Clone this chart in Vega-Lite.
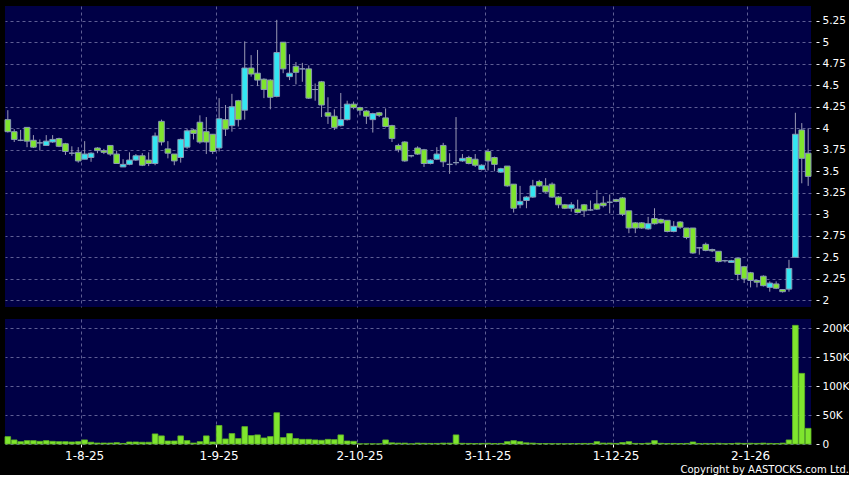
{
  "$schema": "https://vega.github.io/schema/vega-lite/v6.json",
  "background": "#000000",
  "padding": {"left": 4, "top": 6, "right": 0, "bottom": 0},
  "spacing": 12,
  "title": {"text": "Copyright by AASTOCKS.com Ltd.", "orient": "bottom", "anchor": "end", "fontSize": 10, "fontWeight": "normal", "color": "#ffffff", "font": "DejaVu Sans", "offset": 4},
  "config": {
    "view": {"fill": "#000046", "stroke": null},
    "font": "DejaVu Sans",
    "axis": {"gridColor": "#5e5e94", "gridDash": [3, 3], "gridWidth": 1, "labelColor": "#ffffff", "tickColor": "#ffffff", "domain": false, "labelFont": "DejaVu Sans", "labelOverlap": false}
  },
  "data": {"values": [
    {"d":"2025-07-16","o":4.10,"h":4.21,"l":3.95,"c":3.96,"v":12700},
    {"d":"2025-07-17","o":3.96,"h":3.99,"l":3.84,"c":3.87,"v":7000},
    {"d":"2025-07-18","o":3.86,"h":3.98,"l":3.85,"c":3.86,"v":4000},
    {"d":"2025-07-21","o":4.01,"h":4.01,"l":3.78,"c":3.85,"v":5800},
    {"d":"2025-07-22","o":3.86,"h":3.92,"l":3.77,"c":3.78,"v":5800},
    {"d":"2025-07-23","o":3.83,"h":3.87,"l":3.74,"c":3.83,"v":4600},
    {"d":"2025-07-24","o":3.80,"h":3.92,"l":3.80,"c":3.85,"v":5800},
    {"d":"2025-07-25","o":3.84,"h":3.92,"l":3.83,"c":3.87,"v":4600},
    {"d":"2025-07-28","o":3.88,"h":3.89,"l":3.78,"c":3.79,"v":4000},
    {"d":"2025-07-29","o":3.82,"h":3.83,"l":3.69,"c":3.73,"v":4000},
    {"d":"2025-07-30","o":3.71,"h":3.79,"l":3.68,"c":3.71,"v":3500},
    {"d":"2025-07-31","o":3.72,"h":3.78,"l":3.60,"c":3.62,"v":4000},
    {"d":"2025-08-01","o":3.64,"h":3.85,"l":3.64,"c":3.70,"v":7000},
    {"d":"2025-08-04","o":3.66,"h":3.72,"l":3.61,"c":3.71,"v":3000},
    {"d":"2025-08-05","o":3.77,"h":3.78,"l":3.71,"c":3.74,"v":1700},
    {"d":"2025-08-06","o":3.74,"h":3.76,"l":3.70,"c":3.72,"v":1700},
    {"d":"2025-08-07","o":3.80,"h":3.80,"l":3.68,"c":3.70,"v":1700},
    {"d":"2025-08-08","o":3.70,"h":3.74,"l":3.59,"c":3.59,"v":2300},
    {"d":"2025-08-11","o":3.55,"h":3.64,"l":3.55,"c":3.58,"v":1000},
    {"d":"2025-08-12","o":3.58,"h":3.72,"l":3.57,"c":3.63,"v":3500},
    {"d":"2025-08-13","o":3.63,"h":3.70,"l":3.62,"c":3.68,"v":3500},
    {"d":"2025-08-14","o":3.68,"h":3.71,"l":3.56,"c":3.57,"v":3000},
    {"d":"2025-08-15","o":3.63,"h":3.72,"l":3.56,"c":3.59,"v":3000},
    {"d":"2025-08-18","o":3.59,"h":3.95,"l":3.57,"c":3.91,"v":17400},
    {"d":"2025-08-19","o":4.08,"h":4.10,"l":3.80,"c":3.84,"v":14000},
    {"d":"2025-08-20","o":3.76,"h":3.85,"l":3.65,"c":3.71,"v":5200},
    {"d":"2025-08-21","o":3.70,"h":3.70,"l":3.57,"c":3.62,"v":5200},
    {"d":"2025-08-22","o":3.66,"h":3.88,"l":3.60,"c":3.87,"v":14000},
    {"d":"2025-08-25","o":3.78,"h":3.99,"l":3.76,"c":3.97,"v":5800},
    {"d":"2025-08-26","o":3.98,"h":3.99,"l":3.87,"c":3.94,"v":1700},
    {"d":"2025-08-27","o":4.07,"h":4.15,"l":3.82,"c":3.84,"v":4000},
    {"d":"2025-08-28","o":3.96,"h":4.13,"l":3.70,"c":3.84,"v":14000},
    {"d":"2025-08-29","o":3.93,"h":3.93,"l":3.70,"c":3.73,"v":3500},
    {"d":"2025-09-01","o":3.77,"h":4.35,"l":3.73,"c":4.11,"v":32000},
    {"d":"2025-09-02","o":4.10,"h":4.27,"l":3.91,"c":3.99,"v":8700},
    {"d":"2025-09-03","o":4.03,"h":4.40,"l":3.96,"c":4.25,"v":18000},
    {"d":"2025-09-04","o":4.32,"h":4.33,"l":4.02,"c":4.10,"v":9300},
    {"d":"2025-09-05","o":4.21,"h":5.01,"l":4.10,"c":4.70,"v":30000},
    {"d":"2025-09-08","o":4.70,"h":4.85,"l":4.60,"c":4.63,"v":14500},
    {"d":"2025-09-09","o":4.64,"h":4.91,"l":4.49,"c":4.56,"v":15700},
    {"d":"2025-09-10","o":4.57,"h":4.58,"l":4.35,"c":4.45,"v":10400},
    {"d":"2025-09-11","o":4.56,"h":4.57,"l":4.22,"c":4.36,"v":12800},
    {"d":"2025-09-12","o":4.37,"h":5.26,"l":4.36,"c":4.88,"v":54000},
    {"d":"2025-09-15","o":5.00,"h":5.00,"l":4.64,"c":4.69,"v":11000},
    {"d":"2025-09-16","o":4.60,"h":4.86,"l":4.56,"c":4.64,"v":18000},
    {"d":"2025-09-17","o":4.72,"h":4.77,"l":4.51,"c":4.65,"v":9300},
    {"d":"2025-09-18","o":4.69,"h":4.76,"l":4.54,"c":4.69,"v":8000},
    {"d":"2025-09-19","o":4.69,"h":4.73,"l":4.34,"c":4.35,"v":8000},
    {"d":"2025-09-22","o":4.45,"h":4.52,"l":4.32,"c":4.45,"v":7000},
    {"d":"2025-09-23","o":4.54,"h":4.55,"l":4.13,"c":4.27,"v":6400},
    {"d":"2025-09-24","o":4.18,"h":4.36,"l":4.05,"c":4.14,"v":8000},
    {"d":"2025-09-25","o":4.14,"h":4.22,"l":3.98,"c":4.01,"v":7500},
    {"d":"2025-09-26","o":4.03,"h":4.41,"l":4.02,"c":4.10,"v":15700},
    {"d":"2025-09-29","o":4.10,"h":4.32,"l":4.09,"c":4.28,"v":5200},
    {"d":"2025-09-30","o":4.28,"h":4.31,"l":4.22,"c":4.24,"v":4600},
    {"d":"2025-10-02","o":4.24,"h":4.25,"l":4.15,"c":4.21,"v":300},
    {"d":"2025-10-03","o":4.20,"h":4.21,"l":4.05,"c":4.14,"v":300},
    {"d":"2025-10-06","o":4.10,"h":4.18,"l":3.95,"c":4.17,"v":300},
    {"d":"2025-10-08","o":4.18,"h":4.19,"l":4.13,"c":4.15,"v":300},
    {"d":"2025-10-09","o":4.12,"h":4.23,"l":4.01,"c":4.02,"v":7000},
    {"d":"2025-10-10","o":4.03,"h":4.04,"l":3.84,"c":3.88,"v":2000},
    {"d":"2025-10-13","o":3.80,"h":3.82,"l":3.72,"c":3.75,"v":1500},
    {"d":"2025-10-14","o":3.84,"h":3.85,"l":3.61,"c":3.62,"v":1500},
    {"d":"2025-10-15","o":3.68,"h":3.69,"l":3.66,"c":3.68,"v":300},
    {"d":"2025-10-16","o":3.77,"h":3.79,"l":3.69,"c":3.70,"v":1500},
    {"d":"2025-10-17","o":3.75,"h":3.76,"l":3.55,"c":3.59,"v":1200},
    {"d":"2025-10-20","o":3.59,"h":3.64,"l":3.58,"c":3.63,"v":1000},
    {"d":"2025-10-21","o":3.64,"h":3.78,"l":3.63,"c":3.70,"v":1000},
    {"d":"2025-10-22","o":3.80,"h":3.83,"l":3.55,"c":3.61,"v":1500},
    {"d":"2025-10-23","o":3.58,"h":3.71,"l":3.47,"c":3.58,"v":1500},
    {"d":"2025-10-24","o":3.60,"h":4.13,"l":3.57,"c":3.60,"v":15700},
    {"d":"2025-10-27","o":3.62,"h":3.70,"l":3.61,"c":3.65,"v":1200},
    {"d":"2025-10-28","o":3.66,"h":3.68,"l":3.58,"c":3.59,"v":1000},
    {"d":"2025-10-30","o":3.64,"h":3.70,"l":3.55,"c":3.57,"v":800},
    {"d":"2025-10-31","o":3.52,"h":3.58,"l":3.51,"c":3.57,"v":1000},
    {"d":"2025-11-03","o":3.73,"h":3.76,"l":3.51,"c":3.62,"v":1200},
    {"d":"2025-11-04","o":3.66,"h":3.67,"l":3.50,"c":3.58,"v":800},
    {"d":"2025-11-05","o":3.49,"h":3.54,"l":3.48,"c":3.53,"v":1000},
    {"d":"2025-11-06","o":3.56,"h":3.56,"l":3.32,"c":3.33,"v":4000},
    {"d":"2025-11-07","o":3.35,"h":3.35,"l":3.02,"c":3.07,"v":5800},
    {"d":"2025-11-10","o":3.11,"h":3.33,"l":3.07,"c":3.15,"v":4000},
    {"d":"2025-11-11","o":3.16,"h":3.21,"l":3.07,"c":3.20,"v":2000},
    {"d":"2025-11-12","o":3.20,"h":3.40,"l":3.19,"c":3.33,"v":1500},
    {"d":"2025-11-13","o":3.38,"h":3.40,"l":3.32,"c":3.33,"v":800},
    {"d":"2025-11-14","o":3.33,"h":3.42,"l":3.25,"c":3.26,"v":800},
    {"d":"2025-11-17","o":3.35,"h":3.37,"l":3.19,"c":3.20,"v":600},
    {"d":"2025-11-18","o":3.20,"h":3.21,"l":3.07,"c":3.11,"v":600},
    {"d":"2025-11-19","o":3.11,"h":3.12,"l":3.06,"c":3.07,"v":500},
    {"d":"2025-11-20","o":3.07,"h":3.14,"l":3.03,"c":3.11,"v":800},
    {"d":"2025-11-21","o":3.06,"h":3.17,"l":3.01,"c":3.02,"v":800},
    {"d":"2025-11-24","o":3.11,"h":3.12,"l":2.97,"c":3.04,"v":1000},
    {"d":"2025-11-25","o":3.05,"h":3.16,"l":3.04,"c":3.05,"v":1000},
    {"d":"2025-11-26","o":3.12,"h":3.28,"l":3.05,"c":3.06,"v":4000},
    {"d":"2025-11-27","o":3.13,"h":3.21,"l":3.08,"c":3.10,"v":1500},
    {"d":"2025-11-28","o":3.14,"h":3.23,"l":3.01,"c":3.14,"v":1500},
    {"d":"2025-12-01","o":3.17,"h":3.18,"l":3.14,"c":3.15,"v":1000},
    {"d":"2025-12-02","o":3.19,"h":3.20,"l":2.98,"c":3.00,"v":2500},
    {"d":"2025-12-03","o":3.04,"h":3.04,"l":2.78,"c":2.84,"v":4000},
    {"d":"2025-12-04","o":2.90,"h":2.91,"l":2.78,"c":2.84,"v":1000},
    {"d":"2025-12-05","o":2.90,"h":2.91,"l":2.83,"c":2.84,"v":800},
    {"d":"2025-12-08","o":2.83,"h":2.97,"l":2.82,"c":2.89,"v":1500},
    {"d":"2025-12-09","o":2.95,"h":3.07,"l":2.88,"c":2.89,"v":5800},
    {"d":"2025-12-10","o":2.94,"h":2.95,"l":2.89,"c":2.90,"v":1200},
    {"d":"2025-12-11","o":2.93,"h":2.93,"l":2.79,"c":2.80,"v":800},
    {"d":"2025-12-12","o":2.80,"h":2.92,"l":2.79,"c":2.86,"v":1000},
    {"d":"2025-12-15","o":2.91,"h":2.92,"l":2.83,"c":2.85,"v":800},
    {"d":"2025-12-16","o":2.84,"h":2.84,"l":2.71,"c":2.73,"v":1000},
    {"d":"2025-12-17","o":2.84,"h":2.84,"l":2.54,"c":2.55,"v":3500},
    {"d":"2025-12-18","o":2.61,"h":2.62,"l":2.53,"c":2.61,"v":800},
    {"d":"2025-12-19","o":2.65,"h":2.67,"l":2.57,"c":2.58,"v":1000},
    {"d":"2025-12-22","o":2.59,"h":2.60,"l":2.56,"c":2.575,"v":800},
    {"d":"2025-12-23","o":2.57,"h":2.57,"l":2.44,"c":2.45,"v":1200},
    {"d":"2025-12-24","o":2.46,"h":2.47,"l":2.44,"c":2.46,"v":500},
    {"d":"2025-12-29","o":2.44,"h":2.47,"l":2.44,"c":2.46,"v":800},
    {"d":"2025-12-30","o":2.49,"h":2.49,"l":2.23,"c":2.30,"v":1500},
    {"d":"2025-12-31","o":2.39,"h":2.40,"l":2.20,"c":2.25,"v":1000},
    {"d":"2026-01-02","o":2.32,"h":2.33,"l":2.15,"c":2.23,"v":1200},
    {"d":"2026-01-05","o":2.23,"h":2.23,"l":2.15,"c":2.21,"v":1000},
    {"d":"2026-01-06","o":2.28,"h":2.29,"l":2.16,"c":2.17,"v":1500},
    {"d":"2026-01-07","o":2.15,"h":2.22,"l":2.10,"c":2.20,"v":1000},
    {"d":"2026-01-08","o":2.19,"h":2.22,"l":2.13,"c":2.14,"v":800},
    {"d":"2026-01-09","o":2.125,"h":2.13,"l":2.09,"c":2.10,"v":1500},
    {"d":"2026-01-12","o":2.13,"h":2.47,"l":2.10,"c":2.37,"v":7000},
    {"d":"2026-01-13","o":2.50,"h":4.18,"l":2.50,"c":3.93,"v":205000},
    {"d":"2026-01-14","o":3.98,"h":4.06,"l":3.36,"c":3.65,"v":122000},
    {"d":"2026-01-15","o":3.71,"h":4.00,"l":3.33,"c":3.44,"v":27000}
  ]},
  "vconcat": [
    {
      "width": 806,
      "height": 301,
      "encoding": {
        "x": {"field": "d", "type": "ordinal",
          "scale": {"paddingInner": 0.12, "paddingOuter": 0},
          "axis": {"values": ["2025-08-01", "2025-09-01", "2025-10-02", "2025-11-03", "2025-12-01", "2026-01-02"], "bandPosition": 0, "labels": false, "ticks": false, "domain": false, "title": null, "grid": true}}
      },
      "layer": [
        {
          "mark": {"type": "rule", "color": "#9a9ab4", "strokeWidth": 1},
          "encoding": {
            "y": {"field": "l", "type": "quantitative",
              "scale": {"domain": [1.922, 5.421], "nice": false, "zero": false},
              "axis": {"orient": "right", "values": [2, 2.25, 2.5, 2.75, 3, 3.25, 3.5, 3.75, 4, 4.25, 4.5, 4.75, 5, 5.25], "labelExpr": "datum.value + ''", "title": null, "grid": true, "labelOverlap": false, "tickSize": 3, "offset": 5, "labelPadding": 3, "labelFontSize": 10.5}},
            "y2": {"field": "h"}
          }
        },
        {
          "mark": {"type": "bar", "stroke": "#8a9ab4", "strokeWidth": 1},
          "encoding": {
            "y": {"field": "o", "type": "quantitative",
              "scale": {"domain": [1.922, 5.421], "nice": false, "zero": false},
              "axis": {"orient": "right", "values": [2, 2.25, 2.5, 2.75, 3, 3.25, 3.5, 3.75, 4, 4.25, 4.5, 4.75, 5, 5.25], "labelExpr": "datum.value + ''", "title": null, "grid": true, "labelOverlap": false, "tickSize": 3, "offset": 5, "labelPadding": 3, "labelFontSize": 10.5}},
            "y2": {"field": "c"},
            "fill": {"condition": {"test": "datum.c > datum.o", "value": "#33e6f2"}, "value": "#7fe52e"}
          }
        }
      ]
    },
    {
      "width": 806,
      "height": 125,
      "mark": {"type": "bar", "fill": "#7fe52e", "stroke": "#5fb524", "strokeWidth": 0.8},
      "encoding": {
        "x": {"field": "d", "type": "ordinal",
          "scale": {"paddingInner": 0.12, "paddingOuter": 0},
          "axis": {"values": ["2025-08-01", "2025-09-01", "2025-10-02", "2025-11-03", "2025-12-01", "2026-01-02"], "bandPosition": 0, "labelExpr": "utcFormat(toDate(datum.value), '%-d-%-m-%y')", "labelAngle": 0, "labelOverlap": false, "tickSize": 3, "labelPadding": 3, "labelFontSize": 12, "title": null, "grid": true}},
        "y": {"field": "v", "type": "quantitative",
          "scale": {"domain": [0, 216000], "nice": false},
          "axis": {"orient": "right", "values": [0, 50000, 100000, 150000, 200000], "labelExpr": "datum.value == 0 ? '0' : (datum.value / 1000) + 'K'", "title": null, "grid": true, "labelOverlap": false, "tickSize": 3, "offset": 5, "labelPadding": 3, "labelFontSize": 10.5}}
      }
    }
  ]
}
